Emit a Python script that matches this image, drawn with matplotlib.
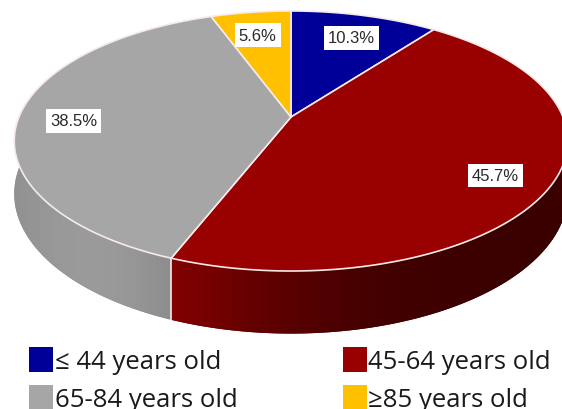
import numpy as np
import matplotlib
matplotlib.use("Agg")
import matplotlib.pyplot as plt
from matplotlib.patches import Patch, Polygon

# Age groups and their share of cases (%)
labels = ["\u2264 44 years old", "45-64 years old", "65-84 years old", "\u226585 years old"]
shares = [10.3, 45.7, 38.5, 5.6]
colors = ["#000099", "#990000", "#a6a6a6", "#ffc000"]

# fake 3D perspective for the pie (pixel space)
cx, cy = 291, 118     # projected centre of the top face
A, C = 103.8, -0.1846  # vertical scale, perspective factor
Sx = 272               # horizontal radius
depth = 51             # thickness of the pie
label_r = 0.8          # where the % boxes sit (fraction of radius)
W, H = 562, 410


def project(r, phi, z=0.0):
    u = r * np.cos(phi)
    v = -r * np.sin(phi)
    w = 1 + C * v
    return cx + Sx * u / w, (A * v + cy + depth * z) / w


def wall_light(x):
    # soft highlight on the lower-left of the rim, dark towards the right
    s = np.where(x < 90, 230, 200)
    return 0.38 + 0.55 * np.exp(-((x - 90) / s) ** 2)


fig = plt.figure(figsize=(5.62, 4.10), dpi=100)
ax = fig.add_axes([0, 0, 1, 1])

frac = np.array(shares) / sum(shares)
cum = np.concatenate([[0], np.cumsum(frac)])
start = np.pi / 2 - 2 * np.pi * cum[:-1]
end = np.pi / 2 - 2 * np.pi * cum[1:]

# side walls: polygon clipped gradient
xpix = np.linspace(0, W, 400)
f = wall_light(xpix)
for i in range(len(shares)):
    ph = np.linspace(start[i], end[i], 300)
    xt, yt = project(1, ph)
    xb, yb = project(1, ph[::-1], 1)
    pts = np.column_stack([np.concatenate([xt, xb]), np.concatenate([yt, yb])])
    base = np.array(matplotlib.colors.to_rgb(colors[i]))
    mid = base * wall_light(xt).mean()
    poly = Polygon(pts, closed=True, facecolor=mid, edgecolor="none", zorder=0.1)
    ax.add_patch(poly)
    grad = np.clip(f[None, :, None] * base[None, None, :], 0, 1)
    im = ax.imshow(grad, extent=(0, W, H, 0), aspect="auto",
                   interpolation="bilinear", zorder=0.2)
    im.set_clip_path(poly)

# white line where wedges meet on the front wall
for phi in end:
    if -np.sin(phi) > 0.2:
        x0, y0 = project(1, phi)
        x1, y1 = project(1, phi, 1)
        ax.plot([x0, x1], [y0, y1], color="#f4e8e8", lw=1.2)

# top faces
for i in range(len(shares)):
    ph = np.linspace(start[i], end[i], 200)
    xs, ys = project(1, ph)
    xs = np.concatenate([[cx], xs, [cx]])
    ys = np.concatenate([[cy], ys, [cy]])
    ax.fill(xs, ys, facecolor=colors[i], edgecolor="#f6eaea", lw=1.2,
            joinstyle="round", zorder=3)

# percentage labels
for i, s in enumerate(shares):
    mid = (start[i] + end[i]) / 2
    lx, ly = project(label_r, mid, 0.1)
    ax.text(lx, ly, f"{s}%", ha="center", va="center", fontsize=12,
            family="Liberation Sans", color="#2a2a2a", zorder=4,
            bbox=dict(boxstyle="square,pad=0.25", fc="white", ec="none"))

ax.set_xlim(0, W)
ax.set_ylim(H, 0)
ax.axis("off")

order = [0, 2, 1, 3]
handles = [Patch(facecolor=colors[k], edgecolor="none") for k in order]
leg = ax.legend(handles, [labels[k] for k in order], ncol=2, loc="upper left",
                bbox_to_anchor=(29 / W, 1 - 348 / H), frameon=False,
                prop={"family": "Open Sans", "size": 18.5}, borderpad=0, borderaxespad=0,
                handlelength=0.95, handleheight=1.12, handletextpad=0.05,
                columnspacing=4.1, labelspacing=0.41)
for t in leg.get_texts():
    t.set_color("#1a1a1a")

fig.savefig("out.png", dpi=100)
